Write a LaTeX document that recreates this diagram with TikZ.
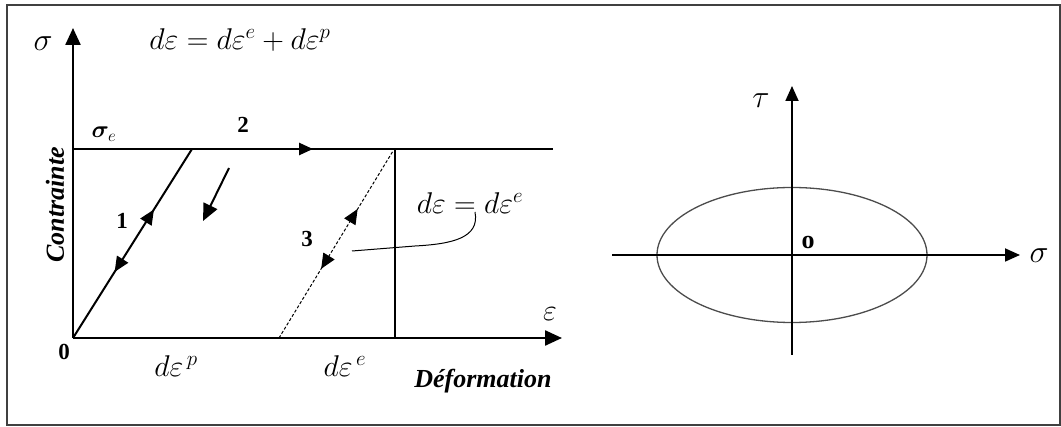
\RequirePackage{fix-cm}
\documentclass[tikz,border=0pt]{standalone}
\usepackage{bm}
\usepackage{fontspec}
\setmainfont{Liberation Serif}
\usetikzlibrary{arrows.meta,decorations.markings}

\tikzset{
  axis/.style={line width=2.4pt,-{Triangle[length=17pt,width=15pt]}},
  thinaxis/.style={line width=1.8pt,-{Triangle[length=15pt,width=13pt]}},
  midarrow/.style={postaction={decorate},decoration={markings,
      mark=at position #1 with {\arrow{Triangle[length=14pt,width=12pt]}}}},
  twoway/.style 2 args={postaction={decorate},decoration={markings,
      mark=at position #1 with {\arrow{Triangle[length=15pt,width=13pt]}},
      mark=at position #2 with {\arrowreversed{Triangle[length=15pt,width=13pt]}}}},
  lbl/.style={inner sep=0pt,font=\fontsize{30}{34}\selectfont},
  num/.style={inner sep=0pt,font=\fontsize{23}{27}\selectfont\bfseries},
  axtitle/.style={inner sep=0pt,font=\fontsize{26}{30}\selectfont\bfseries\itshape}
}

\begin{document}
\begin{tikzpicture}[x=1pt,y=-1pt]
\useasboundingbox (0,0) rectangle (1061,427);
\draw[line width=1.6pt,black!75] (7,5) rectangle (1060,425);

% left: stress - strain
\coordinate (O) at (73,338);
\coordinate (ytop) at (73,28);
\coordinate (xend) at (562,338);
\coordinate (ye) at (73,149);
\coordinate (yeend) at (553,149);
\coordinate (A) at (192,149);
\coordinate (B) at (279,338);
\coordinate (C) at (393,151);
\coordinate (Cv) at (395,149);
\coordinate (Cb) at (395,338);
\coordinate (s1) at (229,168);
\coordinate (s2) at (203,221);
\coordinate (lead1) at (475,212);
\coordinate (lead2) at (352,251);

\draw[axis] (O) -- (ytop);
\draw[axis] (O) -- (xend);
\draw[line width=2.6pt,midarrow=0.5] (ye) -- (yeend);
\draw[line width=2pt,twoway={0.68}{0.35}] (O) -- (A);
\draw[line width=2pt,-{Triangle[length=17pt,width=15pt]}] (s1) -- (s2);
\draw[line width=1pt,densely dashed,twoway={0.69}{0.37}] (B) -- (C);
\draw[line width=1.2pt] (Cv) -- (Cb);
\draw[line width=1pt] (lead1) .. controls (480,238) and (452,244) .. (415,246) -- (lead2);

\node[lbl,font=\fontsize{32}{36}\selectfont] (sig) at (43,44) {$\sigma$};
\node[lbl] (eqtot) at (240,40) {$d\varepsilon = d\varepsilon^{e} + d\varepsilon^{p}$};
\node[lbl,font=\fontsize{24}{28}\selectfont] (sige) at (104,134) {$\bm{\sigma}_{e}$};
\node[num] (n2) at (243,125) {2};
\node[num] (n1) at (122,221) {1};
\node[num] (n3) at (307,239) {3};
\node[num] (n0) at (64,352) {0};
\node[lbl] (eqel) at (470,203) {$d\varepsilon = d\varepsilon^{e}$};
\node[lbl] (eps) at (550,314) {$\varepsilon$};
\node[lbl] (dep) at (176,366) {$d\varepsilon^{\,p}$};
\node[lbl] (dee) at (345,366) {$d\varepsilon^{\,e}$};
\node[axtitle,rotate=90] (ylab) at (55,205) {Contrainte};
\node[axtitle] (xlab) at (483,381) {Déformation};

% right: ellipse
\coordinate (P) at (792,255);
\coordinate (tbot) at (792,355);
\coordinate (ttop) at (792,86);
\coordinate (sleft) at (612,255);
\coordinate (sright) at (1020,255);

\draw[line width=1.3pt,black!70] (P) ellipse [x radius=135, y radius=67.5];
\draw[thinaxis] (tbot) -- (ttop);
\draw[thinaxis] (sleft) -- (sright);
\node[lbl,font=\fontsize{32}{36}\selectfont] (tau) at (761,101) {$\tau$};
\node[lbl,font=\fontsize{32}{36}\selectfont] (sig2) at (1039,256) {$\sigma$};
\node[num,font=\fontsize{26}{30}\selectfont\bfseries] (o) at (808,243) {o};
\end{tikzpicture}
\end{document}
